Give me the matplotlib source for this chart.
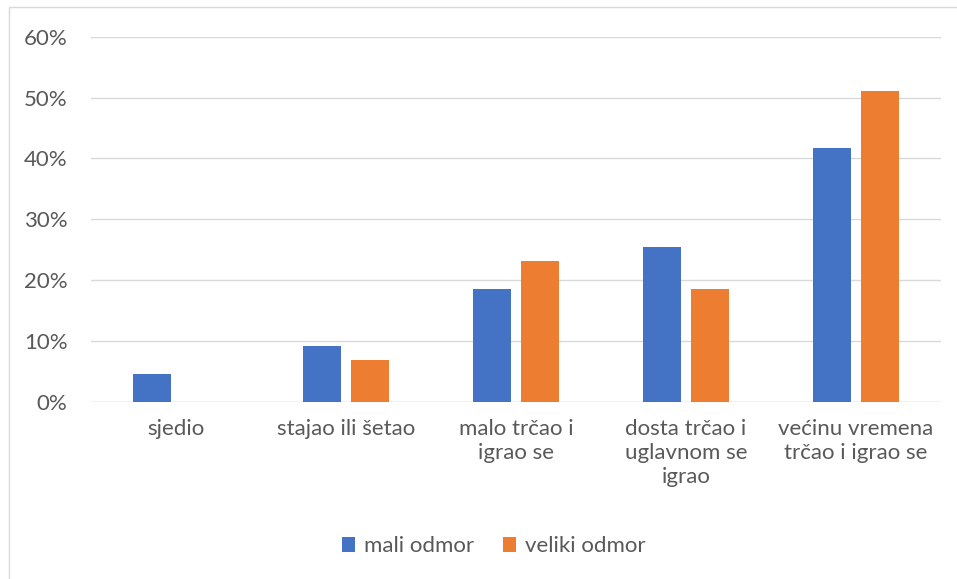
import matplotlib.pyplot as plt
import matplotlib.patches as mpatches
import numpy as np

categories = ["sjedio", "stajao ili šetao", "malo trčao i\nigrao se",
              "dosta trčao i\nuglavnom se\nigrao", "većinu vremena\ntrčao i igrao se"]
mali_odmor = [4.6, 9.2, 18.5, 25.5, 41.7]
veliki_odmor = [0.0, 6.9, 23.2, 18.5, 51.1]
yticks = [0, 10, 20, 30, 40, 50, 60]

blue = "#4472C4"
orange = "#ED7D31"
txt = "#595959"

plt.rcParams['font.family'] = ['Lato', 'DejaVu Sans']

fig = plt.figure(figsize=(9.57, 5.79), dpi=100)
# outer chart border (runs off the right and bottom edge like the original)
fig.patches.append(mpatches.Rectangle((9 / 957, -0.02), 1.0, 1 - 7 / 579 + 0.02,
                                      transform=fig.transFigure,
                                      fill=False, edgecolor="#D9D9D9", linewidth=1))
ax = fig.add_axes([91 / 957, 1 - 402 / 579, 850 / 957, 365.4 / 579])

x = np.arange(len(categories))
w = 0.225
off = 0.141
ax.bar(x - off, mali_odmor, w, color=blue, label="mali odmor", zorder=3)
ax.bar(x + off, veliki_odmor, w, color=orange, label="veliki odmor", zorder=3)

ax.set_xlim(-0.5, len(categories) - 0.5)
ax.set_ylim(0, 60)
ax.set_yticks(yticks)
ax.set_yticklabels([f"{v}%" for v in yticks])
ax.yaxis.grid(True, color="#D9D9D9", linewidth=1, zorder=0)
ax.set_axisbelow(True)
for s in ["top", "right", "left", "bottom"]:
    ax.spines[s].set_visible(False)
ax.axhline(0, color="#D9D9D9", linewidth=1, zorder=2)
ax.tick_params(axis="both", length=0, labelsize=16, labelcolor=txt)
ax.tick_params(axis="y", pad=17)
ax.set_xticks(x)
ax.set_xticklabels(categories, va="top", linespacing=1.25)
ax.tick_params(axis="x", pad=12)

ax.legend(loc="center", bbox_to_anchor=(0.474, -0.395), ncol=2, frameon=False,
          fontsize=16, labelcolor=txt, handlelength=0.6, handleheight=0.6,
          handletextpad=0.4, columnspacing=1.3)

fig.savefig("out.png", dpi=100)
